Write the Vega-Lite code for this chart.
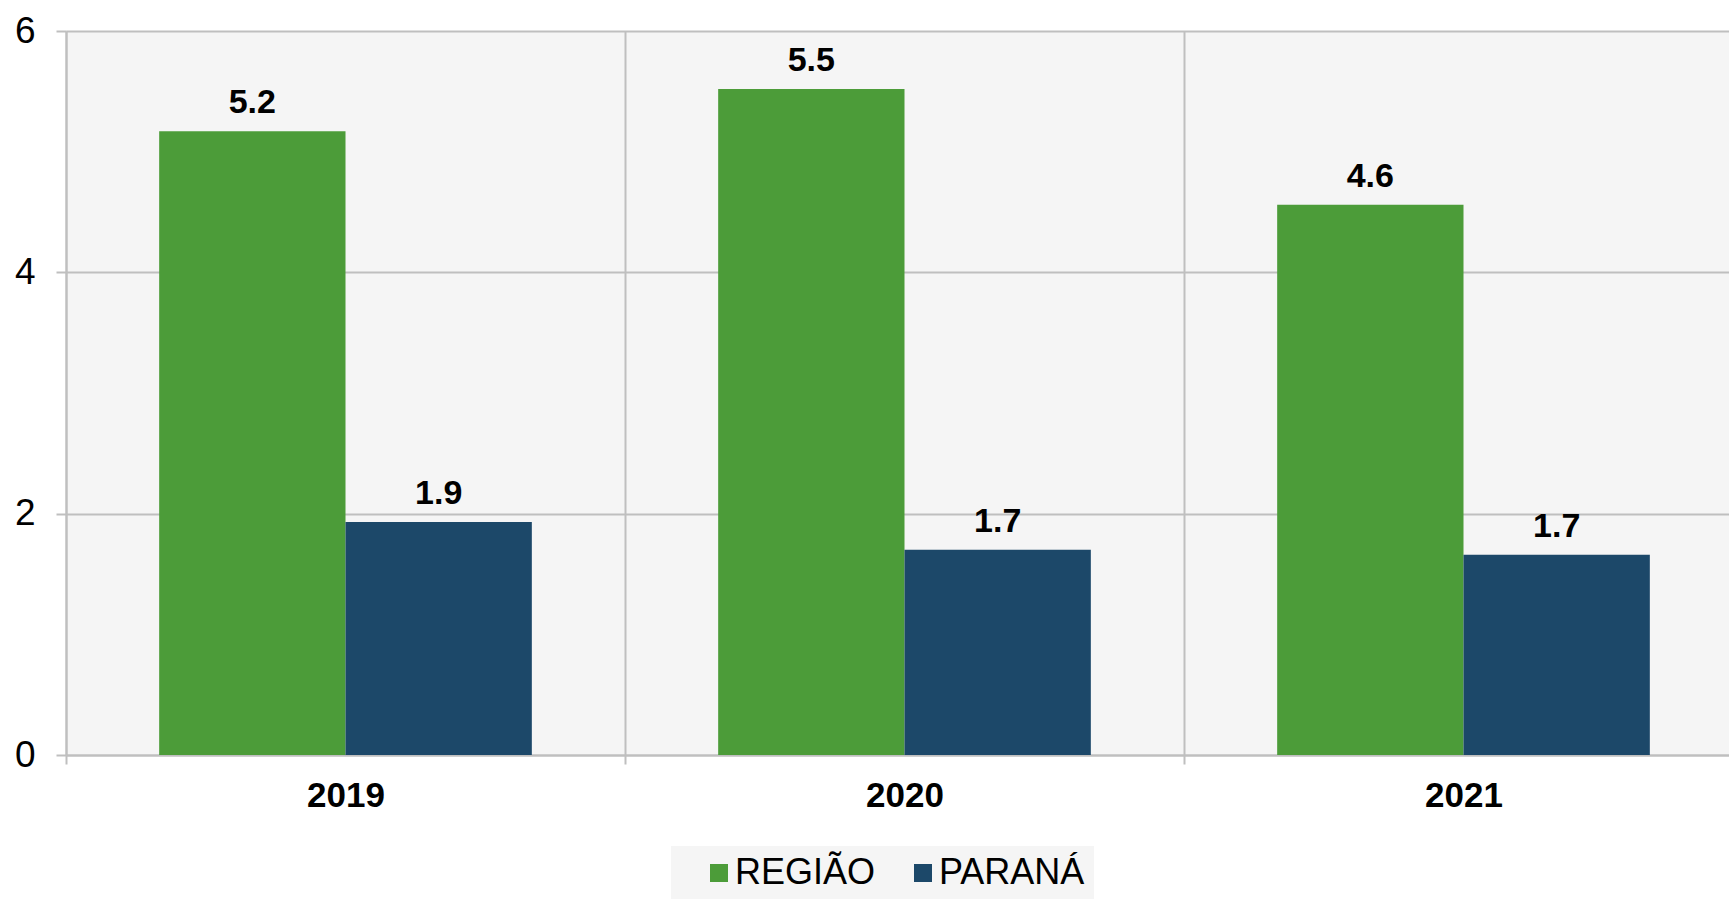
{
  "$schema": "https://vega.github.io/schema/vega-lite/v6.json",
  "width": 1663,
  "height": 724,
  "autosize": {"type": "none"},
  "padding": {"left": 66, "top": 31, "right": 0, "bottom": 144},
  "background": "white",
  "config": {"view": {"fill": "#f5f5f5", "stroke": null}, "font": "Liberation Sans", "axisY": {"labelFontSize": 37}},
  "data": {"values": [
    {"ano": "2019", "serie": "REGIÃO", "valor": 5.17},
    {"ano": "2019", "serie": "PARANÁ", "valor": 1.93},
    {"ano": "2020", "serie": "REGIÃO", "valor": 5.52},
    {"ano": "2020", "serie": "PARANÁ", "valor": 1.70},
    {"ano": "2021", "serie": "REGIÃO", "valor": 4.56},
    {"ano": "2021", "serie": "PARANÁ", "valor": 1.66}
  ]},
  "encoding": {
    "x": {
      "field": "ano", "type": "nominal", "sort": ["2019", "2020", "2021"],
      "scale": {"paddingInner": 0, "paddingOuter": 0, "range": [0, 1677]},
      "axis": {
        "title": null, "labelAngle": 0, "labelFont": "Liberation Sans", "labelFontSize": 35,
        "labelFontWeight": "bold", "labelColor": "black", "tickBand": "extent",
        "grid": true, "gridColor": "#bfbfbf", "gridWidth": 2,
        "domainColor": "#bfbfbf", "domainWidth": 2,
        "tickColor": "#bfbfbf", "tickWidth": 2, "tickSize": 9, "labelPadding": 14
      }
    },
    "xOffset": {
      "field": "serie", "type": "nominal", "sort": ["REGIÃO", "PARANÁ"],
      "scale": {"paddingInner": 0, "paddingOuter": 0.5}
    },
    "y": {
      "field": "valor", "type": "quantitative",
      "scale": {"domain": [0, 6], "nice": false},
      "axis": {
        "values": [0, 2, 4, 6], "title": null, "labelFont": "Liberation Sans",
        "labelFontSize": 37, "labelColor": "black", "labelPadding": 21,
        "grid": true, "gridColor": "#bfbfbf", "gridWidth": 2,
        "domainColor": "#bfbfbf", "domainWidth": 2,
        "tickColor": "#bfbfbf", "tickWidth": 2, "tickSize": 10
      }
    }
  },
  "layer": [
    {
      "mark": {"type": "bar"},
      "encoding": {
        "color": {
          "field": "serie", "type": "nominal", "sort": ["REGIÃO", "PARANÁ"],
          "scale": {"domain": ["REGIÃO", "PARANÁ"], "range": ["#4c9c39", "#1c4869"]},
          "legend": {
            "orient": "none", "legendX": 605, "legendY": 815, "direction": "horizontal",
            "title": null, "fillColor": "#f5f5f5", "padding": 9,
            "symbolType": "square", "symbolSize": 324, "symbolStrokeWidth": 0,
            "labelFontSize": 36, "labelFont": "Liberation Sans", "labelColor": "black",
            "columnPadding": 8, "labelOffset": -2, "symbolOffset": 21
          }
        }
      }
    },
    {
      "mark": {"type": "text", "baseline": "alphabetic", "dy": -18, "fontSize": 34, "fontWeight": "bold", "color": "black", "font": "Liberation Sans"},
      "encoding": {"text": {"field": "valor", "type": "quantitative", "format": ".1f"}}
    }
  ]
}
